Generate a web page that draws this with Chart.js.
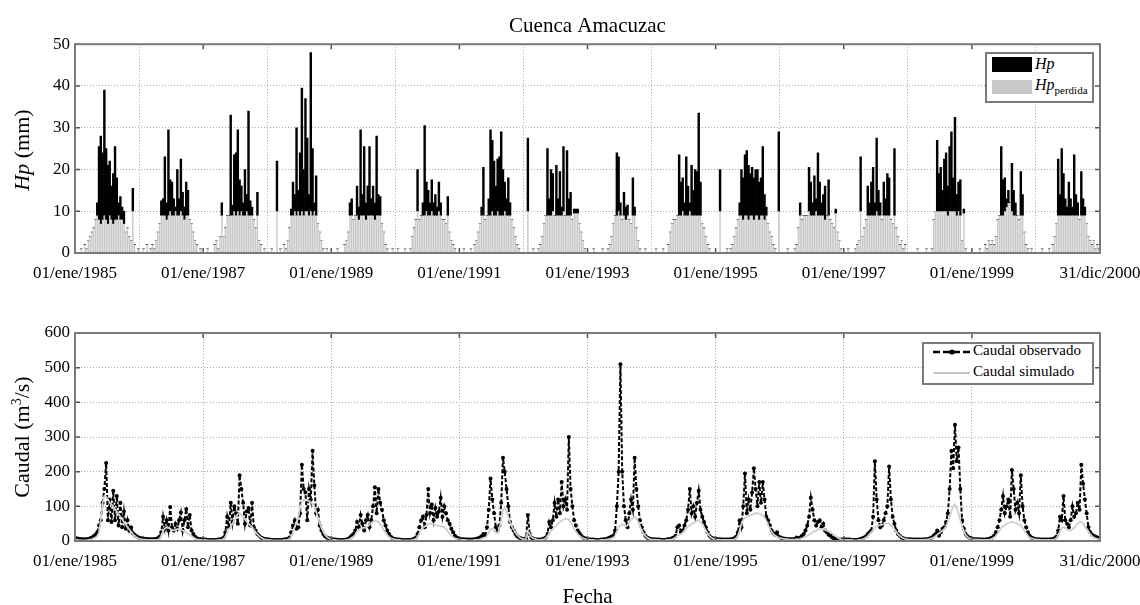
<!DOCTYPE html>
<html>
<head>
<meta charset="utf-8">
<script src="https://cdn.jsdelivr.net/npm/chart.js@4/dist/chart.umd.min.js"></script>
<style>
  body { margin: 0; background: #fff; font-family: "Liberation Serif", serif; }
  #wrap { position: relative; width: 1140px; height: 605px; overflow: hidden; }
  canvas { position: absolute; left: 0; }
  .ytitle { position: absolute; font-size: 22px; white-space: nowrap; transform: translate(-50%, -50%) rotate(-90deg); }
  .legend { position: absolute; background: #fff; border: 2px solid #7a7a7a; font-size: 15px; }
  .legend span, .legend svg { position: absolute; }
</style>
</head>
<body>
<div id="wrap">
  <canvas id="lluvia" width="1140" height="290" style="top:0"></canvas>
  <canvas id="caudal" width="1140" height="320" style="top:290px"></canvas>

  <div class="ytitle" style="left:22px; top:150px"><i>Hp</i> (mm)</div>
  <div class="ytitle" style="left:22px; top:437px">Caudal (m<sup style="font-size:14px">3</sup>/s)</div>

  <div class="legend" style="left:985px; top:52px; width:105px; height:47px">
    <span style="left:5px; top:3px; width:40px; height:15px; background:#000"></span>
    <span style="left:48px; top:1px; font-size:16px; font-style:italic">Hp</span>
    <span style="left:5px; top:26px; width:40px; height:14px; background:#c8c8c8"></span>
    <span style="left:48px; top:22px; font-size:16px"><i>Hp</i><sub style="font-size:11px">perdida</sub></span>
  </div>

  <div class="legend" style="left:922px; top:342px; width:168px; height:39px">
    <svg style="left:8px; top:4px" width="40" height="8">
      <line x1="1" y1="4" x2="38" y2="4" stroke="#000" stroke-width="2.5" stroke-dasharray="7,3"/>
      <circle cx="20" cy="4" r="2.6" fill="#000"/>
    </svg>
    <span style="left:49px; top:-2px">Caudal observado</span>
    <svg style="left:8px; top:25px" width="40" height="8">
      <line x1="1" y1="4" x2="38" y2="4" stroke="#c8c8c8" stroke-width="2"/>
    </svg>
    <span style="left:49px; top:19px">Caudal simulado</span>
  </div>
</div>

<script>
// periodo 1985-2000, valores por decadas (36 por año)
const years = [1985, 1986, 1987, 1988, 1989, 1990, 1991, 1992, 1993, 1994, 1995, 1996, 1997, 1998, 1999, 2000];
const slotsPerYear = 36;
const xTickLabels = ['01/ene/1985', '01/ene/1987', '01/ene/1989', '01/ene/1991', '01/ene/1993',
                     '01/ene/1995', '01/ene/1997', '01/ene/1999', '31/dic/2000'];

// Hp perdida (mm) - barra gris
const hpPerdida = [
  0,0,0,1,0,2,1,3,4,5, 6,8,9,8,7,8,9,8,7,9, 8,7,8,8,9,8,8,7,5,6, 4,3,10,2,0,1,
  0,0,1,0,2,0,1,2,1,3, 5,7,9,9,9,8,9,10,9,9, 10,9,9,10,9,8,9,9,8,7, 5,3,2,0,1,0,
  0,0,1,0,0,0,2,3,1,4, 9,4,6,9,9,9,9,10,9,10, 9,10,9,9,10,9,9,9,8,6, 9,3,2,0,1,0,
  0,0,1,0,0,10,0,1,0,2, 1,3,6,9,9,10,9,10,9,10, 9,10,10,9,10,9,10,9,7,5, 3,1,0,1,0,0,
  0,0,0,1,0,0,0,2,3,5, 9,9,8,9,9,8,9,9,9,8, 9,9,9,9,8,9,9,9,7,5, 2,1,0,0,1,0,
  0,1,0,0,0,1,0,0,1,4, 6,8,10,8,9,9,9,10,9,9, 10,9,9,9,10,9,8,8,7,9, 5,3,2,1,0,0,
  0,0,1,0,0,0,1,0,2,3, 5,7,9,9,8,9,9,9,10,9, 9,10,9,9,9,10,9,9,9,8, 6,4,2,1,0,0,
  0,0,10,0,0,1,0,0,1,2, 4,7,9,9,9,9,10,9,9,9, 9,9,10,9,9,9,9,8,9.5,9.5, 9.5,7,5,3,1,0,
  0,0,0,1,0,0,0,0,1,0, 0,1,2,4,7,9,9,10,9,8, 9,8,9,8,7,9,9,6,3,1, 0,0,1,0,0,0,
  0,0,1,0,0,0,1,0,0,2, 5,7,8,8,9,9,9,10,9,9, 9,10,9,9,9,9,9,9,7,6, 4,2,1,0,0,0,
  0,0,10,0,0,0,1,0,1,2, 4,6,8,9,9,8,9,9,8,9, 9,8,9,9,8,9,9,8,9,7, 5,4,2,1,0,10,
  0,0,0,0,1,0,0,0,1,2, 6,9,8,9,9,9,10,9,9,9, 10,9,9,9,9,8,9,9,8,7, 6,9.5,5,3,1,0,
  0,0,1,0,0,0,1,2,3,10, 4,6,8,9,9,9,9,9,10,9, 9,8,9,9,9,9,8,7,9,6, 4,2,3,1,2,0,
  0,0,0,0,0,1,0,0,0,0, 1,0,0,1,8,10,10,10,10,10, 10,10,9,10,10,10,10,9,10,9, 3,9.5,1,0,0,0,
  0,0,0,0,1,0,0,2,1,3, 2,3,2,4,8,9,9,9,10,11, 12,12,10,9,9,9,8,9,9,5, 2,1,0,1,0,0,
  0,0,0,1,0,0,0,1,0,2, 4,7,9,9,9,9,9,9,9,9, 9,9,9,9,8,9,9,9,7,4, 3,2,3,1,2,1
];

// Hp efectiva (mm) - barra negra, apilada sobre la perdida
const hpEfectiva = [
  0,0,0,0,0,0,0,0,0,0, 0,0,3,17.5,21,16,30,17,14,13, 8,12,17.5,10,3,5.5,3,3,0,0, 0,0,5.5,0,0,0,
  0,0,0,0,0,0,0,0,0,0, 0,0,3.5,4,14,4,20.5,7.5,8,4, 1,11,4,12.5,5.5,3,8,6,0,0, 0,0,0,0,0,0,
  0,0,0,0,0,0,0,0,0,0, 3,0,0,0,0,24,2.5,13.5,15,19.5, 8.5,6,3,11,4,25,3.5,2,0,0, 5.5,0,0,0,0,0,
  0,0,0,0,0,12,0,0,0,0, 0,0,0,1.5,8,4,21,5,15,29.5, 11,27,17.5,5,38,16,2,9.5,0,0, 0,0,0,0,0,0,
  0,0,0,0,0,0,0,0,0,0, 3,4,0,0,7,3,20.5,5,16.5,4, 7,16.5,4,7,4,19,5,4.5,0,0, 0,0,0,0,0,0,
  0,0,0,0,0,0,0,0,0,0, 0,0,10,0,0,3,21.5,7,6,3, 7.5,3,5,2,7,3,0,0,0,4.5, 0,0,0,0,0,0,
  0,0,0,0,0,0,0,0,0,0, 0,0,2,11.5,0,0,4,20.5,17,13, 7,12.5,14,20,11,7,4,9,3,0, 0,0,0,0,0,0,
  0,0,17.5,0,0,0,0,0,0,0, 0,0,0,16,4,11,9,0,12,4, 10.5,2,15.5,0,15.5,4,5.5,0,1,1, 1,0,0,0,0,0,
  0,0,0,0,0,0,0,0,0,0, 0,0,0,0,0,0,15,13,3,0, 5.5,3,2.5,0,0,9,2,0,0,0, 0,0,0,0,0,0,
  0,0,0,0,0,0,0,0,0,0, 0,0,0,0,0,14.5,8,8,3,14, 7,2,12,6,11,10.5,24.5,8,0,0, 0,0,0,0,0,0,
  0,0,10,0,0,0,0,0,0,0, 0,0,0,3,11,10,14.5,15.5,13,10, 11.5,10,11,11,9,9,16.5,6,2,0, 0,0,0,0,0,19,
  0,0,0,0,0,0,0,0,0,0, 0,3,0,0,0,0,10.5,8,3,9.5, 3,15,8,3,5,8,0,8.5,0,0, 0,1,0,0,0,0,
  0,0,0,0,0,0,0,0,0,13, 0,0,0,7,3,8,11.5,3,17.5,6, 3,0,8,4,10,9,0,0,16,0, 0,0,0,0,0,0,
  0,0,0,0,0,0,0,0,0,0, 0,0,0,0,0,0,17,9,10.5,5, 12.5,14,7,15.5,19,8,22.5,5,7,8.5, 0,1,0,0,0,0,
  0,0,0,0,0,0,0,0,0,0, 0,0,0,0,0,0,16.5,8.5,8,2, 3,0,11.5,6,3,0,0,10.5,5,0, 0,0,0,0,0,0,
  0,0,0,0,0,0,0,0,0,0, 0,0,13.5,5,16,10,4,2,8,4, 2,14.5,5,3,0,10.5,4,2,0,0, 0,0,0,0,0,0
];

// caudal observado (m3/s)
const caudalObs = [
  8,7,6,6,5,5,5,6,8,10, 14,18,25,45,60,110,150,225,60,120, 55,145,60,130,45,110,40,85,35,60, 30,40,22,18,14,11,
  9,8,7,6,6,5,5,5,5,6, 8,12,25,70,35,60,30,98,40,30, 50,35,60,82,30,60,92,40,75,30, 20,12,8,6,5,5,
  4,4,3,3,3,3,3,3,4,5, 6,10,25,70,40,110,55,100,80,50, 190,150,110,50,85,95,45,110,40,30, 20,15,10,8,6,5,
  4,4,3,3,3,3,3,3,3,4, 5,6,10,25,45,60,35,40,80,220, 150,140,60,150,120,260,160,80,90,45, 30,20,14,10,8,6,
  5,4,4,3,3,3,3,3,4,6, 10,15,20,30,55,40,75,50,30,60, 75,40,60,100,155,80,150,110,90,60, 45,30,20,12,8,6,
  5,4,4,3,3,3,3,3,3,4, 6,10,20,40,60,70,40,75,150,80, 105,60,95,70,85,125,70,100,80,60, 50,35,25,15,10,7,
  6,5,5,4,4,4,4,4,5,6, 8,10,14,20,15,40,90,180,120,80, 40,30,45,110,240,200,150,100,55,40, 30,20,14,10,8,6,
  5,8,75,20,10,7,5,4,4,4, 5,7,10,20,55,40,60,110,70,120, 80,170,100,120,90,300,150,100,60,45, 30,22,15,10,8,6,
  5,4,4,4,3,3,3,4,4,5, 6,8,10,12,15,30,100,200,510,200, 100,60,40,80,120,90,240,150,100,60, 40,25,15,10,8,6,
  5,5,4,4,4,3,3,3,4,5, 6,8,10,15,40,45,25,30,45,60, 90,150,80,100,70,110,145,90,70,55, 40,25,15,10,8,6,
  6,5,5,4,4,4,4,4,5,6, 8,12,25,60,40,100,195,80,120,90, 140,210,150,100,170,110,170,120,70,60, 45,30,22,18,25,12,
  10,8,7,6,6,5,5,5,6,10, 8,10,15,20,30,45,70,125,90,60, 45,55,60,40,50,30,25,18,15,10, 8,6,5,4,4,4,
  5,4,4,4,3,3,3,3,4,6, 8,10,14,20,25,30,70,230,120,60, 40,45,60,80,100,215,120,70,50,30, 20,15,10,8,6,5,
  5,5,4,4,4,4,4,4,4,5, 5,6,8,10,15,20,30,15,25,35, 40,55,80,150,260,210,335,230,270,150, 60,35,20,14,10,8,
  6,5,5,5,4,4,4,4,5,6, 8,10,15,25,40,60,90,130,80,100, 120,70,205,150,90,110,80,190,100,60, 40,25,15,10,8,6,
  5,5,4,4,4,4,4,4,5,6, 8,12,30,70,60,130,60,50,40,60, 100,70,80,110,90,220,165,120,80,40, 25,18,15,12,10,8
];

// caudal simulado (m3/s)
const caudalSim = [
  3,3,2,2,2,2,2,3,4,5, 8,10,14,25,60,110,130,128,120,110, 105,100,92,85,78,70,62,55,48,40, 33,27,20,15,11,8,
  6,5,4,4,3,3,3,3,3,3, 4,6,15,30,36,40,38,35,32,30, 32,34,35,33,30,28,25,22,18,14, 10,7,5,4,3,3,
  3,3,2,2,2,2,2,2,3,3, 4,6,12,25,35,40,50,60,70,78, 80,75,68,62,56,50,45,40,32,25, 20,14,10,7,5,4,
  3,3,2,2,2,2,2,2,2,3, 3,4,6,12,25,40,55,70,95,112, 118,120,118,115,112,108,100,85,68,52, 38,27,18,12,8,6,
  4,3,3,2,2,2,2,2,3,4, 6,9,12,18,28,32,36,38,38,40, 42,48,52,56,58,58,55,48,40,32, 24,17,12,8,6,5,
  4,3,3,2,2,2,2,2,2,3, 4,6,12,22,32,38,42,45,48,50, 50,48,46,45,44,43,42,40,35,28, 21,15,11,8,6,4,
  4,3,3,3,2,2,2,2,3,3, 4,5,7,9,10,15,25,35,35,30, 25,22,35,60,90,95,85,70,55,42, 32,24,17,12,8,6,
  4,6,28,20,12,8,6,4,3,3, 4,5,8,14,22,28,35,40,45,50, 55,58,62,64,64,62,55,45,35,27, 20,15,11,8,6,5,
  4,3,3,3,2,2,2,3,3,3, 4,5,6,8,10,15,28,38,45,48, 45,42,45,55,62,66,70,65,55,42, 30,22,15,10,7,5,
  4,4,3,3,3,2,2,2,3,3, 4,5,7,10,15,18,20,24,30,36, 42,45,48,52,55,58,60,55,48,40, 30,22,15,10,7,5,
  4,4,3,3,3,3,3,3,3,4, 5,8,15,30,50,62,67,70,72,74, 76,78,80,80,78,76,74,68,58,46, 35,26,20,15,12,9,
  8,7,6,5,5,4,4,4,4,5, 5,6,8,10,12,15,18,22,25,28, 30,33,35,35,34,32,30,28,25,22, 18,14,10,7,5,4,
  4,3,3,3,3,2,2,2,3,4, 5,7,10,14,20,26,32,38,42,45, 46,47,48,50,52,50,46,40,34,27, 20,15,11,8,6,5,
  4,4,3,3,3,3,3,3,3,4, 4,5,6,8,10,14,18,22,26,30, 35,42,55,70,85,100,105,95,80,60, 42,28,18,12,8,6,
  5,4,4,4,3,3,3,3,3,4, 5,7,10,15,22,30,38,42,46,50, 52,54,55,54,52,50,48,45,38,30, 22,15,10,8,6,5,
  4,4,3,3,3,3,3,3,3,4, 5,8,15,28,38,40,38,34,30,30, 34,38,44,50,55,55,50,42,35,27, 20,14,10,8,6,5
];

Chart.defaults.font.family = '"Liberation Serif", serif';
Chart.defaults.color = '#000';

// fecha (en años) del centro de cada decada
function slotDate(i) {
  return years[0] + (i + 0.5) / slotsPerYear;
}
function toPoints(values) {
  return values.map((v, i) => ({ x: slotDate(i), y: v }));
}

const gridColor = '#a8a8a8';
const frameColor = '#7a7a7a';

// marco cerrado y marcas de graduacion hacia adentro, estilo matlab
const framePlugin = {
  id: 'frame',
  afterDraw(chart) {
    const { ctx, chartArea: a, scales } = chart;
    ctx.save();
    ctx.strokeStyle = '#555';
    ctx.lineWidth = 1.5;
    ctx.beginPath();
    scales.x.ticks.forEach(t => {
      const px = scales.x.getPixelForValue(t.value);
      ctx.moveTo(px, a.top); ctx.lineTo(px, a.top + 5);
      ctx.moveTo(px, a.bottom); ctx.lineTo(px, a.bottom - 5);
    });
    scales.y.ticks.forEach(t => {
      const py = scales.y.getPixelForValue(t.value);
      ctx.moveTo(a.left, py); ctx.lineTo(a.left + 5, py);
      ctx.moveTo(a.right, py); ctx.lineTo(a.right - 5, py);
    });
    ctx.stroke();
    ctx.strokeStyle = frameColor;
    ctx.lineWidth = 2;
    ctx.strokeRect(a.left, a.top, a.right - a.left, a.bottom - a.top);
    ctx.restore();
  }
};

function xScale(extra) {
  return Object.assign({
    type: 'linear',
    min: 1985,
    max: 2001,
    offset: false,
    grid: { color: gridColor, drawTicks: false },
    border: { display: false, dash: [1, 2] },
    ticks: {
      stepSize: 2,
      maxRotation: 0,
      autoSkip: false,
      padding: 10,
      font: { size: 17 },
      callback: v => xTickLabels[Math.round((v - 1985) / 2)]
    },
    afterFit(s) { s.paddingLeft = 0; s.paddingRight = 0; }
  }, extra);
}

function yScale(max, step, extra) {
  return Object.assign({
    min: 0,
    max: max,
    grid: { color: gridColor, drawTicks: false },
    border: { display: false, dash: [1, 2] },
    ticks: { stepSize: step, padding: 5, font: { size: 17 } },
    afterFit(s) { s.width = 75; s.paddingTop = 0; s.paddingBottom = 0; }
  }, extra);
}

new Chart(document.getElementById('lluvia'), {
  type: 'bar',
  data: {
    datasets: [
      {
        label: 'Hp perdida',
        data: toPoints(hpPerdida),
        backgroundColor: '#c8c8c8',
        barPercentage: 0.8,
        categoryPercentage: 1
      },
      {
        label: 'Hp',
        data: toPoints(hpEfectiva),
        backgroundColor: '#000',
        barPercentage: 1,
        categoryPercentage: 1
      }
    ]
  },
  options: {
    responsive: false,
    animation: false,
    devicePixelRatio: 1,
    layout: { padding: { left: 0, right: 40, top: 0, bottom: 0 } },
    plugins: {
      legend: { display: false },
      tooltip: { enabled: false },
      title: {
        display: true,
        text: 'Cuenca Amacuzac',
        fullSize: false,
        color: '#000',
        font: { size: 21, weight: 'normal' },
        padding: { top: 14, bottom: 5 }
      }
    },
    scales: {
      x: xScale({ stacked: true, afterFit(s) { s.height = 37; s.paddingLeft = 0; s.paddingRight = 0; } }),
      y: yScale(50, 10, { stacked: true })
    }
  },
  plugins: [framePlugin]
});

new Chart(document.getElementById('caudal'), {
  type: 'line',
  data: {
    datasets: [
      {
        label: 'Caudal observado',
        data: toPoints(caudalObs),
        borderColor: '#000',
        borderWidth: 2,
        borderDash: [4, 2],
        pointRadius: 2,
        pointBackgroundColor: '#000',
        pointBorderWidth: 0,
        tension: 0,
        order: 2
      },
      {
        label: 'Caudal simulado',
        data: toPoints(caudalSim),
        borderColor: '#cfcfcf',
        borderWidth: 1.8,
        pointRadius: 0,
        tension: 0,
        order: 1
      }
    ]
  },
  options: {
    responsive: false,
    animation: false,
    devicePixelRatio: 1,
    layout: { padding: { left: 0, right: 40, top: 43, bottom: 0 } },
    plugins: {
      legend: { display: false },
      tooltip: { enabled: false }
    },
    scales: {
      x: xScale({
        title: { display: true, text: 'Fecha', font: { size: 21 }, padding: { top: 0, bottom: 0 } },
        afterFit(s) { s.height = 69; s.paddingLeft = 0; s.paddingRight = 0; }
      }),
      y: yScale(600, 100)
    }
  },
  plugins: [framePlugin]
});
</script>
</body>
</html>
